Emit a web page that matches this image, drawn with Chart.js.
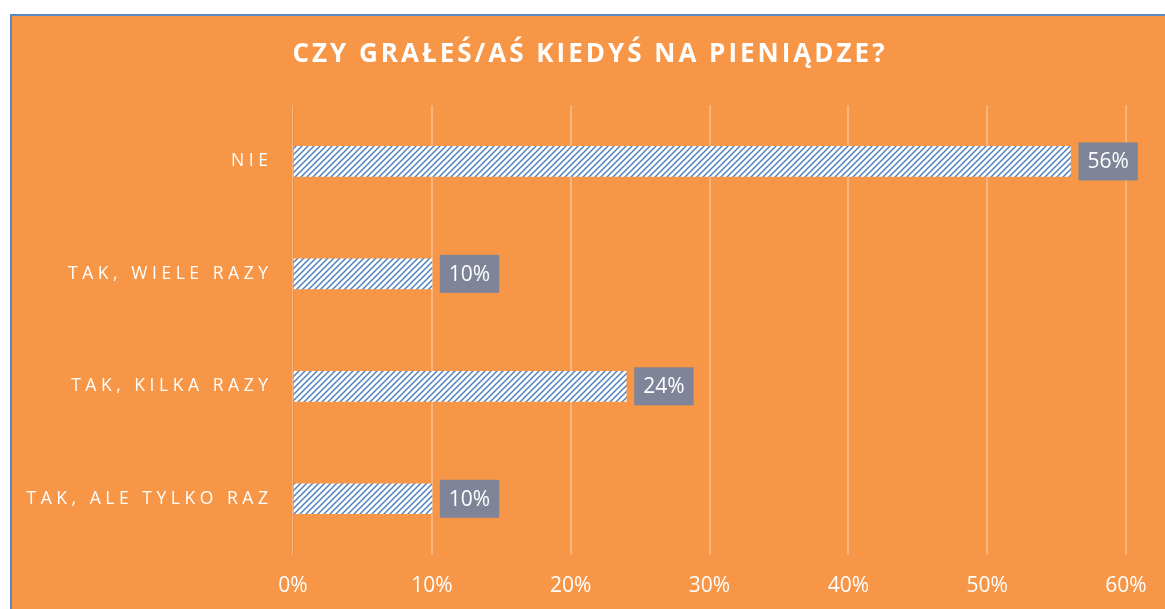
<!DOCTYPE html>
<html>
<head>
<meta charset="utf-8">
<script src="https://cdn.jsdelivr.net/npm/chart.js@4"></script>
<style>
  body { margin: 0; background: #fff; overflow: hidden; }
  #wrap {
    position: absolute; left: 10px; top: 14px;
    width: 1153px; height: 593px;
    background: #F79646;
    border-left: 2px solid #5B87C5;
    border-top: 2px solid #5B87C5;
  }
  canvas { display: block; }
</style>
</head>
<body>
<div id="wrap"><canvas id="barChart" width="1153" height="593"></canvas></div>
<script>
// data
var categories = ["N I E", "T A K ,   W I E L E   R A Z Y", "T A K ,   K I L K A   R A Z Y", "T A K ,   A L E   T Y L K O   R A Z"];
var values = [56, 10, 24, 10];
var title = "CZY GRAŁEŚ/AŚ KIEDYŚ NA PIENIĄDZE?";

// hatch pattern
var pc = document.createElement('canvas');
pc.width = 6; pc.height = 6;
var p = pc.getContext('2d');
p.fillStyle = '#fff';
p.fillRect(0, 0, 6, 6);
p.strokeStyle = '#4F81BD';
p.lineWidth = 1.5;
p.beginPath();
p.moveTo(-1, 7); p.lineTo(7, -1);
p.moveTo(-1, 1); p.lineTo(1, -1);
p.moveTo(5, 7); p.lineTo(7, 5);
p.stroke();
var ctxB = document.getElementById("barChart").getContext('2d');
var hatch = ctxB.createPattern(pc, 'repeat');

// value labels in grey boxes
var boxLabels = {
    id: 'boxLabels',
    afterDatasetsDraw: function(chart) {
        var ctx = chart.ctx;
        var meta = chart.getDatasetMeta(0);
        ctx.save();
        ctx.font = '21px "Open Sans"';
        ctx.textBaseline = 'middle';
        ctx.textAlign = 'center';
        meta.data.forEach(function(bar, i) {
            var txt = values[i] + '%';
            var w = ctx.measureText(txt).width + 18;
            var x = bar.x + 8;
            ctx.fillStyle = '#7F8498';
            ctx.fillRect(x, bar.y - 19, w, 38);
            ctx.fillStyle = '#fff';
            ctx.fillText(txt, x + w / 2, bar.y + 1);
        });
        ctx.restore();
    }
};

var chart = new Chart(ctxB, {
    type: 'bar',
    data: {
        labels: categories,
        datasets: [{
            data: values,
            backgroundColor: hatch,
            borderWidth: 0,
            barThickness: 30
        }]
    },
    options: {
        indexAxis: 'y',
        responsive: false,
        animation: false,
        layout: { padding: { left: 0, right: 39, top: 0, bottom: 0 } },
        plugins: {
            legend: { display: false },
            tooltip: { enabled: false },
            title: {
                display: true,
                text: title,
                color: '#fff',
                font: { family: 'Open Sans', size: 26, weight: 'bold' },
                padding: { top: 23, bottom: 35 }
            }
        },
        scales: {
            x: {
                min: 0, max: 60,
                ticks: {
                    stepSize: 10,
                    color: '#fff',
                    padding: 18,
                    font: { family: 'Open Sans', size: 21 },
                    callback: function(v) { return v + '%'; }
                },
                grid: { color: '#F9B57D', lineWidth: 2, drawTicks: false },
                border: { display: false },
                afterFit: function(s) { s.height = 54; }
            },
            y: {
                ticks: {
                    color: '#fff',
                    padding: 17,
                    font: { family: 'Open Sans', size: 17.5 }
                },
                grid: { display: false },
                border: { color: '#8FA6C9', width: 1 },
                afterFit: function(s) { s.width = 281; }
            }
        }
    },
    plugins: [boxLabels]
});

// spaced title, centred on the whole box
var tb = chart.titleBlock;
var drawTitle = tb.draw;
tb.draw = function(area) {
    var ctx = this.ctx;
    ctx.save();
    ctx.letterSpacing = '3px';
    ctx.translate(21, 0);
    drawTitle.call(this, area);
    ctx.restore();
};
chart.draw();
</script>
</body>
</html>
